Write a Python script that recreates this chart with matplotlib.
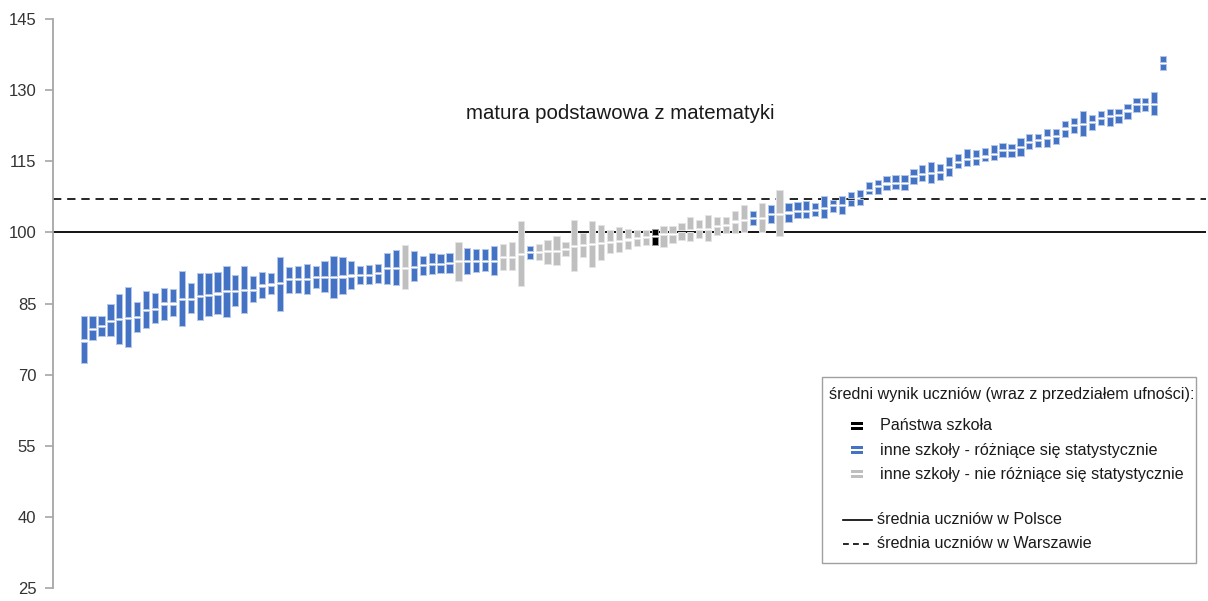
import matplotlib.pyplot as plt
import matplotlib.patches as mpatches
import numpy as np

plt.rcParams['font.family'] = ['Liberation Sans', 'DejaVu Sans']

# dane: dolna granica, srednia, gorna granica przedzialu
dolne = [72.4, 77.2, 78.1, 78.1, 76.5, 75.8, 78.9, 79.9, 80.9, 81.6,
         82.3, 80.2, 83.0, 81.6, 82.4, 82.7, 82.1, 84.4, 83.1, 85.4,
         86.2, 86.9, 83.5, 87.3, 87.2, 86.9, 88.3, 87.4, 86.2, 86.9,
         88.0, 89.2, 89.2, 89.4, 89.2, 89.0, 88.0, 89.7, 91.1, 91.3,
         91.5, 91.5, 89.7, 91.3, 91.6, 91.8, 91.1, 92.1, 92.1, 88.6,
         94.4, 94.2, 93.4, 93.2, 95.1, 91.8, 94.9, 92.7, 94.2, 95.7,
         95.8, 96.4, 97.1, 97.3, 97.4, 97.0, 97.7, 98.3, 98.2, 98.9,
         98.2, 99.5, 99.9, 99.9, 100.1, 101.5, 100.1, 102.0, 99.2, 102.2,
         103.1, 103.1, 103.4, 103.0, 104.2, 103.9, 105.5, 105.7, 108.0, 108.0,
         108.9, 109.1, 109.0, 110.3, 110.8, 110.5, 111.0, 111.9, 113.6, 113.9,
         114.3, 115.0, 115.3, 115.8, 115.8, 116.1, 117.5, 118.0, 118.1, 118.6,
         120.2, 121.0, 120.3, 121.5, 122.6, 122.4, 123.1, 124.0, 125.3, 125.7,
         124.7, 134.3]
srednie = [77.2, 79.7, 80.2, 81.4, 81.7, 82.0, 82.1, 83.6, 83.8, 85.0,
           85.0, 85.9, 86.0, 86.6, 86.7, 87.1, 87.6, 87.7, 87.9, 87.9,
           88.8, 89.0, 89.3, 90.1, 90.1, 90.1, 90.6, 90.6, 90.6, 90.7,
           90.9, 91.1, 91.1, 91.4, 92.4, 92.5, 92.5, 92.7, 93.2, 93.4,
           93.4, 93.6, 93.9, 93.9, 94.0, 94.0, 94.0, 94.8, 94.9, 95.5,
           95.8, 95.8, 96.0, 96.1, 96.4, 97.1, 97.3, 97.6, 97.8, 98.0,
           98.2, 98.5, 98.9, 99.0, 99.2, 99.6, 99.7, 100.2, 100.4, 100.8,
           100.8, 101.3, 101.6, 102.3, 102.7, 103.1, 103.1, 103.9, 103.9, 104.2,
           104.6, 104.6, 104.8, 105.2, 105.7, 105.7, 107.1, 107.2, 109.0, 109.7,
           110.3, 110.4, 110.4, 111.8, 112.4, 112.5, 112.7, 113.8, 114.8, 115.5,
           115.7, 116.0, 116.6, 117.3, 117.3, 118.0, 119.1, 119.4, 120.0, 120.3,
           121.9, 122.6, 122.8, 123.3, 124.1, 124.5, 124.8, 125.7, 127.0, 127.0,
           127.1, 135.7]
gorne = [82.3, 82.3, 82.3, 84.8, 87.1, 88.5, 85.4, 87.7, 87.2, 88.3,
         88.1, 91.8, 89.4, 91.5, 91.5, 91.6, 93.0, 91.1, 92.9, 90.7,
         91.6, 91.5, 94.8, 92.8, 93.0, 93.4, 92.9, 94.0, 95.1, 94.8,
         93.9, 92.9, 93.2, 93.4, 95.7, 96.2, 97.3, 96.1, 95.1, 95.6,
         95.5, 95.7, 98.0, 96.6, 96.4, 96.4, 97.1, 97.5, 98.0, 102.5,
         97.1, 97.5, 98.3, 99.2, 98.0, 102.7, 99.9, 102.5, 101.5, 100.6,
         101.1, 100.8, 100.4, 100.6, 100.8, 101.3, 101.3, 102.0, 103.2, 102.7,
         103.6, 103.2, 103.2, 104.5, 105.8, 104.5, 106.1, 105.8, 109.0, 106.3,
         106.4, 106.6, 106.2, 107.7, 106.9, 107.7, 108.6, 109.0, 110.6, 111.1,
         111.8, 112.0, 112.2, 113.3, 114.3, 114.8, 114.5, 115.8, 116.5, 117.5,
         117.3, 117.7, 118.4, 118.9, 118.7, 120.0, 120.7, 120.8, 121.7, 121.7,
         123.5, 124.1, 125.7, 124.8, 125.7, 126.1, 126.1, 127.1, 128.4, 128.3,
         129.6, 137.2]
# r = rozni sie statystycznie, n = nie rozni sie, p = Panstwa szkola
status = (['r'] * 36 + ['n'] + ['r'] * 5 + ['n'] + ['r'] * 4 + ['n'] * 3
          + ['r'] + ['n'] * 13 + ['p'] + ['n'] * 10 + ['r', 'n', 'r', 'n']
          + ['r'] * 43)

srednia_polska = 100.0
srednia_warszawa = 107.1

y_ticks = [25, 40, 55, 70, 85, 100, 115, 130, 145]
tytul = 'matura podstawowa z matematyki'
legenda_naglowek = 'średni wynik uczniów (wraz z przedziałem ufności):'
legenda_szkoly = ['Państwa szkoła',
                  'inne szkoły - różniące się statystycznie',
                  'inne szkoły - nie różniące się statystycznie']
legenda_linie = ['średnia uczniów w Polsce', 'średnia uczniów w Warszawie']

kolory = {'r': '#4472C4', 'n': '#BFBFBF', 'p': '#000000'}
obwodki = {'r': '#B4C7E7', 'n': '#E4E4E4', 'p': '#9A9A9A'}

W, H = 1208, 601
fig = plt.figure(figsize=(W / 100, H / 100), dpi=100)
ax = fig.add_axes([53 / W, 13 / H, (1206 - 53) / W, 569 / H])

x = np.arange(len(srednie))
dol = np.array(dolne)
sr = np.array(srednie)
gor = np.array(gorne)
przerwa = 0.22

c = [kolory[s] for s in status]
e = [obwodki[s] for s in status]
ax.bar(x, (sr - przerwa) - dol, bottom=dol, width=0.7, color=c,
       edgecolor=e, linewidth=0.7, zorder=3)
ax.bar(x, gor - (sr + przerwa), bottom=sr + przerwa, width=0.7, color=c,
       edgecolor=e, linewidth=0.7, zorder=3)

ax.axhline(srednia_polska, color='black', linewidth=1.3, zorder=2)
ax.axhline(srednia_warszawa, color='black', linewidth=1.2,
           linestyle=(0, (5, 3.5)), zorder=2)

ax.set_ylim(25, 145)
ax.set_xlim(-3.44, 125.8)
ax.set_yticks(y_ticks)
ax.tick_params(axis='y', colors='#A6A6A6', length=6, width=1.2,
               labelcolor='#333333', labelsize=12, pad=6)
ax.set_xticks([])
for s in ['top', 'right', 'bottom']:
    ax.spines[s].set_visible(False)
ax.spines['left'].set_color('#A6A6A6')
ax.spines['left'].set_linewidth(1.3)

fig.text(620 / W, 1 - 113 / H, tytul, ha='center', va='center',
         fontsize=14.7, color='#1a1a1a')

# legenda rysowana recznie
def fx(px):
    return px / W


def fy(py):
    return 1 - py / H


fig.patches.append(mpatches.Rectangle((fx(822), fy(563)), fx(1196) - fx(822),
                                      fy(377) - fy(563), transform=fig.transFigure,
                                      facecolor='white', edgecolor='#A0A0A0',
                                      linewidth=1, zorder=5))
fig.text(fx(829), fy(395), legenda_naglowek, ha='left', va='center',
         fontsize=11.6, color='#1a1a1a', zorder=6)
for i, (tekst, s) in enumerate(zip(legenda_szkoly, ['p', 'r', 'n'])):
    yc = 426 + i * 24
    for dy in (-4.5, 0.5):
        fig.patches.append(mpatches.Rectangle((fx(851), fy(yc + dy + 3.5)), fx(12),
                                              3.5 / H, transform=fig.transFigure,
                                              facecolor=kolory[s], edgecolor='none',
                                              zorder=6))
    fig.text(fx(880), fy(yc), tekst, ha='left', va='center', fontsize=11.6,
             color='#1a1a1a', zorder=6)
for i, (tekst, ls) in enumerate(zip(legenda_linie, ['-', (0, (3.5, 2.5))])):
    yc = 520 + i * 23.5
    fig.add_artist(plt.Line2D([fx(843), fx(872)], [fy(yc), fy(yc)],
                              transform=fig.transFigure, color='black',
                              linewidth=1.2, linestyle=ls, zorder=6))
    fig.text(fx(877), fy(yc), tekst, ha='left', va='center', fontsize=11.6,
             color='#1a1a1a', zorder=6)

fig.savefig('out.png', dpi=100)
